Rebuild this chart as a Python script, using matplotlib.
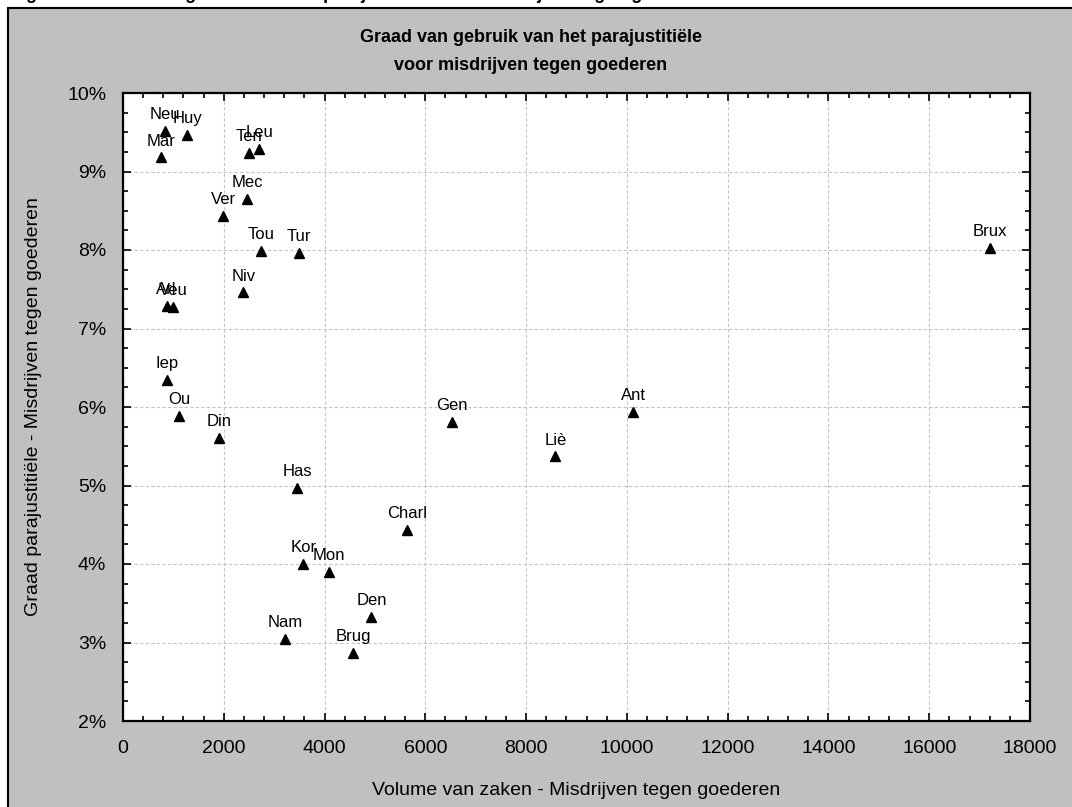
import numpy as np
import matplotlib
matplotlib.use('Agg')
import matplotlib.pyplot as plt
from matplotlib.patches import Rectangle
from matplotlib.ticker import MultipleLocator, FuncFormatter

plt.rcParams['font.family'] = ['Liberation Sans', 'DejaVu Sans']

# arrondissementen: volume van zaken (x) en graad parajustitiële (%)
labels = ['Neu', 'Huy', 'Mar', 'Ten', 'Leu', 'Mec', 'Ver', 'Tou', 'Tur', 'Niv',
          'Arl', 'Veu', 'Iep', 'Ou', 'Din', 'Has', 'Gen', 'Liè', 'Ant', 'Brux',
          'Charl', 'Kor', 'Mon', 'Den', 'Nam', 'Brug']
volume = [841, 1272, 755, 2505, 2704, 2465, 1988, 2744, 3499, 2386,
          867, 1000, 881, 1113, 1908, 3459, 6520, 8580, 10130, 17210,
          5645, 3579, 4095, 4930, 3221, 4573]
graad = [9.52, 9.47, 9.18, 9.24, 9.29, 8.65, 8.43, 7.99, 7.96, 7.46,
         7.29, 7.27, 6.35, 5.89, 5.61, 4.97, 5.81, 5.37, 5.94, 8.03,
         4.43, 4.00, 3.90, 3.33, 3.05, 2.87]

W, H = 1072, 807
fig = plt.figure(figsize=(W / 100, H / 100), dpi=100)
fig.patch.set_facecolor('white')

# grijze achtergrond met rand
bg = Rectangle((8 / W, -0.05), 1.05, 1 - 8 / H + 0.05, transform=fig.transFigure,
               facecolor='#c0c0c0', edgecolor='black', linewidth=1.5, zorder=-1)
fig.patches.append(bg)

# afgesneden bijschrift bovenaan
fig.text(10 / W, 1 + 1 / H, 'Figuur 4: Graad van gebruik van het parajustitiële voor misdrijven tegen goederen',
         fontsize=13, fontweight='bold', va='baseline', ha='left')

ax = fig.add_axes([123 / W, 1 - 721 / H, (1030 - 123) / W, (721 - 93) / H])
ax.set_facecolor('white')

ax.plot(volume, graad, linestyle='none', marker='^', markersize=6.5, color='black', zorder=3)
for lab, x, y in zip(labels, volume, graad):
    ax.annotate(lab, (x, y), xytext=(0, 8.5), textcoords='offset points',
                ha='center', va='baseline', fontsize=12, zorder=4)

ax.set_xlim(0, 18000)
ax.set_ylim(2, 10)
ax.xaxis.set_major_locator(MultipleLocator(2000))
ax.xaxis.set_minor_locator(MultipleLocator(400))
ax.yaxis.set_major_locator(MultipleLocator(1))
ax.yaxis.set_minor_locator(MultipleLocator(0.25))
ax.yaxis.set_major_formatter(FuncFormatter(lambda v, p: f'{int(round(v))}%'))

ax.tick_params(which='both', direction='in', top=True, right=True, labelsize=14, width=1.2, pad=12)
ax.tick_params(axis='x', pad=14)
ax.tick_params(which='major', length=6)
ax.tick_params(which='minor', length=3.5)
for s in ax.spines.values():
    s.set_linewidth(1.6)

ax.grid(True, which='major', linestyle=(0, (3, 2)), color='#c4c4c4', linewidth=0.8)
ax.set_axisbelow(True)

ax.set_xlabel('Volume van zaken - Misdrijven tegen goederen', fontsize=14, labelpad=18)
ax.set_ylabel('Graad parajustitiële - Misdrijven tegen goederen', fontsize=14, labelpad=18)

fig.text(0.495, 1 - 37 / H, 'Graad van gebruik van het parajustitiële', fontsize=13,
         fontweight='bold', ha='center', va='center')
fig.text(0.495, 1 - 65 / H, 'voor misdrijven tegen goederen', fontsize=13,
         fontweight='bold', ha='center', va='center')

fig.savefig('out.png', dpi=100, facecolor=fig.get_facecolor())
